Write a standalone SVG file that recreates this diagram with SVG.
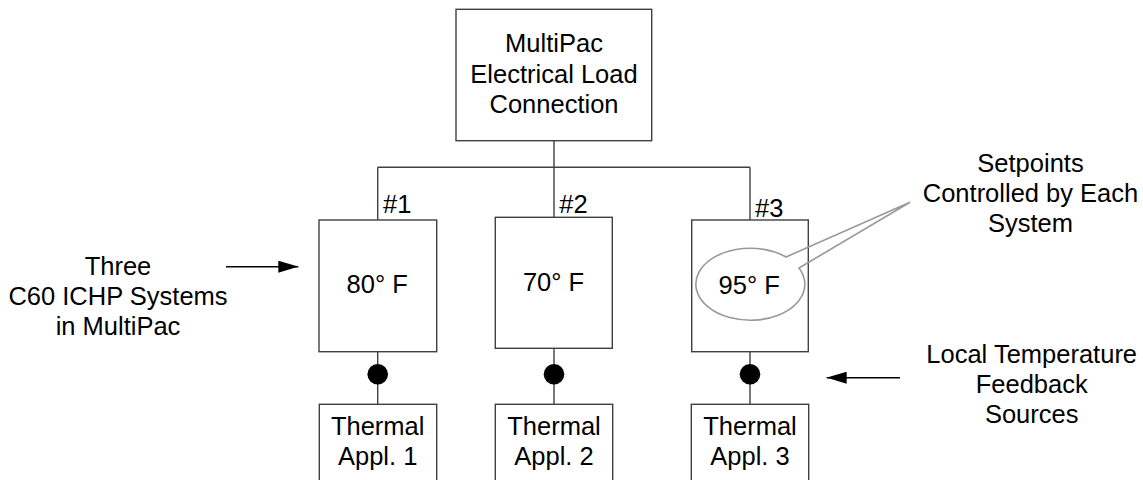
<svg xmlns="http://www.w3.org/2000/svg" width="1143" height="480" viewBox="0 0 1143 480">
<style>
.box{fill:#fff;stroke:#404040;stroke-width:1.4}
.ln{fill:none;stroke:#404040;stroke-width:1.4}
.t{font-family:"Liberation Sans",Arial,sans-serif;font-size:25.5px;fill:#000;text-anchor:middle}
.ts{font-family:"Liberation Sans",Arial,sans-serif;font-size:25.5px;fill:#000}
.dot{fill:#000}
.arr{fill:none;stroke:#000;stroke-width:1.5}
</style>
<defs>
<marker id="ah" markerWidth="20" markerHeight="12" refX="20" refY="6" orient="auto" markerUnits="userSpaceOnUse">
<path d="M0,0 L20,6 L0,12 Z" fill="#000"/>
</marker>
</defs>
<g id="connectors">
<path class="ln" d="M554,141 V167.3 M377.7,167.3 H750 M377.7,167.3 V220 M554,167.3 V217 M750,167.3 V220"/>
<path class="ln" d="M377.7,352 V404.3 M554,348.3 V404.3 M750,352 V404.3"/>
<circle class="dot" cx="377.7" cy="374.3" r="10.3"/>
<circle class="dot" cx="554" cy="374.3" r="10.3"/>
<circle class="dot" cx="750" cy="374.3" r="10.3"/>
<line class="arr" x1="226" y1="266.7" x2="298.3" y2="266.7" marker-end="url(#ah)"/>
<line class="arr" x1="900" y1="377.7" x2="826.7" y2="377.7" marker-end="url(#ah)"/>
</g>
<g id="top">
<rect class="box" x="456" y="9.3" width="195.7" height="131.4"/>
<text class="t" x="554" y="51.7">MultiPac</text>
<text class="t" x="554" y="82.7">Electrical Load</text>
<text class="t" x="554" y="113.3">Connection</text>
</g>
<g id="sys1">
<rect class="box" x="319" y="220" width="117.7" height="131.7"/>
<text class="ts" x="383" y="212.7">#1</text>
<text class="t" x="377.2" y="293.3">80° F</text>
</g>
<g id="sys2">
<rect class="box" x="495.3" y="217.3" width="117" height="131"/>
<text class="ts" x="559.3" y="212.7">#2</text>
<text class="t" x="553.5" y="290.7">70° F</text>
</g>
<g id="sys3">
<rect class="box" x="691.7" y="220" width="116.6" height="131.7"/>
<text class="ts" x="755" y="216.7">#3</text>
<path d="M786,257 L910,202.3 L799,268 A54.5,36 0 1 1 786,257 Z" fill="none" stroke="#999" stroke-width="1.6"/>
<text class="t" x="749.2" y="294">95° F</text>
</g>
<g id="app1">
<rect class="box" x="319.3" y="404.3" width="117.4" height="80"/>
<text class="t" x="377.7" y="435">Thermal</text>
<text class="t" x="377.7" y="465">Appl. 1</text>
</g>
<g id="app2">
<rect class="box" x="495.3" y="404.3" width="117.4" height="80"/>
<text class="t" x="554" y="435">Thermal</text>
<text class="t" x="554" y="465">Appl. 2</text>
</g>
<g id="app3">
<rect class="box" x="691.3" y="404.3" width="117.4" height="80"/>
<text class="t" x="750" y="435">Thermal</text>
<text class="t" x="750" y="465">Appl. 3</text>
</g>
<g id="label-three">
<text class="t" x="118" y="275">Three</text>
<text class="t" x="118" y="305">C60 ICHP Systems</text>
<text class="t" x="118" y="335">in MultiPac</text>
</g>
<g id="label-setpoints">
<text class="t" x="1030.5" y="171.7">Setpoints</text>
<text class="t" x="1030.5" y="201.7">Controlled by Each</text>
<text class="t" x="1030.5" y="231.7">System</text>
</g>
<g id="label-feedback">
<text class="t" x="1031.7" y="363.3">Local Temperature</text>
<text class="t" x="1031.7" y="393.3">Feedback</text>
<text class="t" x="1031.7" y="423.3">Sources</text>
</g>
</svg>
